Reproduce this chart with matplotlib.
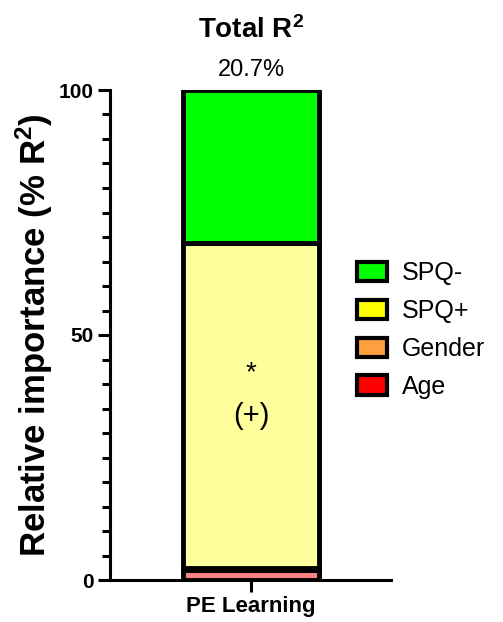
import numpy as np
import matplotlib
matplotlib.use("Agg")
import matplotlib.pyplot as plt
from matplotlib.patches import Patch
from matplotlib.ticker import MultipleLocator

plt.rcParams['font.family'] = ['Liberation Sans', 'DejaVu Sans']
plt.rcParams['mathtext.fontset'] = 'custom'
plt.rcParams['mathtext.rm'] = 'Liberation Sans'
plt.rcParams['mathtext.bf'] = 'Liberation Sans:bold'

# Data (relative importance, % of R2)
groups = ['PE Learning']
predictors = ['Age', 'Gender', 'SPQ+', 'SPQ-']
values = [2.0, 0.5, 66.3, 31.2]
bar_colors = ['#FF8080', '#FFB070', '#FFFF9E', '#00FF00']
legend_colors = ['#FF0000', '#FFA040', '#FFFF00', '#00FF00']
total_r2 = '20.7%'

fig = plt.figure(figsize=(5.03, 6.22), dpi=100)
ax = fig.add_axes([110 / 503, 42 / 622, 281 / 503, 490 / 622])

x = np.arange(len(groups))
bottom = np.zeros(len(groups))
for name, v, c in zip(predictors, values, bar_colors):
    ax.bar(x, [v], bottom=bottom, width=0.98, color=c,
           edgecolor='black', linewidth=3.5, zorder=2)
    bottom += v

# significance marker in the SPQ+ segment
ax.text(0, 42.3, '*', ha='center', va='center', fontsize=20)
ax.text(0, 33.5, '(+)', ha='center', va='center', fontsize=21)

ax.set_xlim(-1.02, 1.01)
ax.set_ylim(0, 100)
ax.set_xticks(x)
ax.set_xticklabels(groups, fontsize=16, fontweight='bold')
ax.set_yticks([0, 50, 100])
ax.set_yticklabels(['0', '50', '100'], fontsize=15, fontweight='bold')
ax.yaxis.set_minor_locator(MultipleLocator(5))
ax.tick_params(axis='both', which='major', width=2.2, length=8.5, pad=3)
ax.tick_params(axis='y', which='minor', width=2.2, length=5.5)
for s in ['top', 'right']:
    ax.spines[s].set_visible(False)
for s in ['left', 'bottom']:
    ax.spines[s].set_linewidth(2.2)
    ax.spines[s].set_zorder(3)

fig.text(34 / 503, 1 - 335 / 622, r'Relative importance (% $\mathbf{R^2}$)',
         rotation=90, ha='center', va='center', fontsize=25, fontweight='bold')

fig.text(251 / 503, 1 - 30 / 622, r'Total $\mathbf{R^2}$',
         ha='center', va='center', fontsize=20, fontweight='bold')
fig.text(251 / 503, 1 - 70 / 622, total_r2,
         ha='center', va='center', fontsize=17)

handles = [Patch(facecolor=c, edgecolor='black', linewidth=3, label=n)
           for n, c in zip(predictors[::-1], legend_colors[::-1])]
fig.legend(handles=handles, loc='center left', bbox_to_anchor=(334 / 503, 1 - 330 / 622),
           frameon=False, fontsize=18, handlelength=1.2, handleheight=0.8,
           labelspacing=0.55, handletextpad=0.6)

fig.savefig('out.png', dpi=100)
